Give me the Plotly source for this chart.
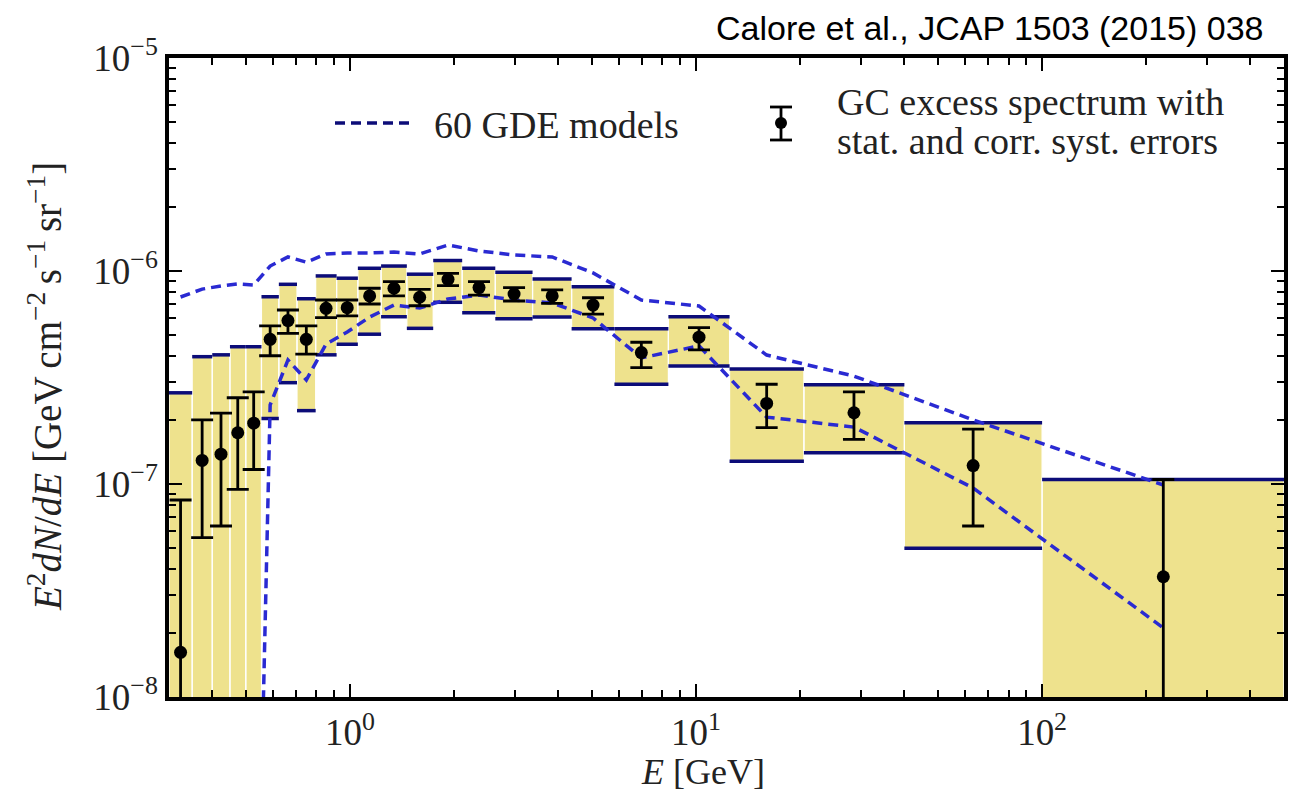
import plotly.graph_objects as go

# Energy bin edges [GeV]
bin_edges = [0.30, 0.35, 0.40, 0.45, 0.50, 0.555, 0.623, 0.703, 0.796, 0.915,
             1.054, 1.23, 1.46, 1.74, 2.11, 2.63, 3.37, 4.37, 5.81, 8.32,
             12.5, 20.5, 40.0, 100.0, 500.0]

# Bin centre energies [GeV]
energy = [0.324, 0.374, 0.424, 0.474, 0.527, 0.588, 0.662, 0.748, 0.853, 0.982,
          1.14, 1.34, 1.59, 1.92, 2.36, 2.98, 3.84, 5.04, 6.95, 10.2,
          16.0, 28.6, 63.2, 224.0]

# GC excess spectrum E^2 dN/dE [GeV cm^-2 s^-1 sr^-1]
flux = [1.62e-8, 1.29e-7, 1.38e-7, 1.74e-7, 1.93e-7, 4.78e-7, 5.85e-7, 4.78e-7,
        6.68e-7, 6.73e-7, 7.64e-7, 8.30e-7, 7.53e-7, 9.14e-7, 8.36e-7, 7.80e-7,
        7.64e-7, 6.92e-7, 4.14e-7, 4.89e-7, 2.39e-7, 2.16e-7, 1.22e-7, 3.67e-8]

# Statistical error band (upper / lower ends)
stat_hi = [8.41e-8, 2.00e-7, 2.15e-7, 2.54e-7, 2.71e-7, 5.52e-7, 6.56e-7, 5.52e-7,
           7.31e-7, 7.31e-7, 8.30e-7, 8.91e-7, 8.20e-7, 9.75e-7, 8.91e-7, 8.36e-7,
           8.15e-7, 7.49e-7, 4.63e-7, 5.42e-7, 2.94e-7, 2.71e-7, 1.81e-7, 1.05e-7]
stat_lo = [1e-10, 5.60e-8, 6.35e-8, 9.44e-8, 1.17e-7, 4.00e-7, 5.10e-7, 4.07e-7,
           6.04e-7, 6.15e-7, 7.00e-7, 7.64e-7, 6.87e-7, 8.53e-7, 7.71e-7, 7.23e-7,
           7.05e-7, 6.27e-7, 3.52e-7, 4.26e-7, 1.84e-7, 1.62e-7, 6.35e-8, 1e-10]

# Correlated systematic band (upper / lower ends)
syst_hi = [2.68e-7, 3.96e-7, 4.04e-7, 4.41e-7, 4.41e-7, 7.57e-7, 8.66e-7, 7.41e-7,
           9.48e-7, 9.25e-7, 1.03e-6, 1.055e-6, 9.66e-7, 1.12e-6, 1.03e-6, 9.86e-7,
           9.16e-7, 8.44e-7, 5.35e-7, 6.10e-7, 3.47e-7, 2.92e-7, 1.94e-7, 1.05e-7]
syst_lo = [1e-10, 1e-10, 1e-10, 1e-10, 1e-10, 2.03e-7, 2.99e-7, 2.21e-7,
           4.04e-7, 4.53e-7, 5.05e-7, 6.10e-7, 5.38e-7, 7.13e-7, 6.37e-7, 5.96e-7,
           6.08e-7, 5.35e-7, 2.94e-7, 3.58e-7, 1.28e-7, 1.40e-7, 4.99e-8, 1e-10]

# Envelope of the 60 Galactic diffuse emission models
gde_upper = [7.55e-7, 8.22e-7, 8.51e-7, 8.69e-7, 8.60e-7, 1.055e-6, 1.164e-6, 1.10e-6,
             1.202e-6, 1.215e-6, 1.215e-6, 1.228e-6, 1.202e-6, 1.325e-6, 1.242e-6,
             1.189e-6, 1.164e-6, 9.79e-7, 7.31e-7, 6.85e-7, 4.03e-7, 3.21e-7,
             2.00e-7, 9.89e-8]
gde_lower = [1e-10, 1e-10, 1e-10, 1e-10, 1e-10, 2.35e-7, 3.82e-7, 3.08e-7,
             4.54e-7, 5.17e-7, 6.08e-7, 6.92e-7, 6.70e-7, 7.39e-7, 7.71e-7,
             7.31e-7, 7.08e-7, 6.02e-7, 3.91e-7, 4.45e-7, 2.06e-7, 1.85e-7,
             9.58e-8, 2.11e-8]

# Axis ticks
x_major = [1, 10, 100]
x_major_text = ["10<sup>0</sup>", "10<sup>1</sup>", "10<sup>2</sup>"]
x_minor = [0.4, 0.5, 0.6, 0.7, 0.8, 0.9, 2, 3, 4, 5, 6, 7, 8, 9,
           20, 30, 40, 50, 60, 70, 80, 90, 200, 300, 400]
y_major = [1e-8, 1e-7, 1e-6, 1e-5]
y_major_text = ["10<sup>\u22128</sup>", "10<sup>\u22127</sup>",
                "10<sup>\u22126</sup>", "10<sup>\u22125</sup>"]
y_minor = [m * 10.0 ** p for p in (-8, -7, -6) for m in range(2, 10)]

KHAKI = "#eee28d"
NAVY = "#0c0c78"
DASH_BLUE = "#2a2ad2"
SERIF = "Liberation Serif"
TEXT = "#222"

W, H = 1301, 796
ML, MR, MT, MB = 169, 17, 58, 99
PW, PH = W - ML - MR, H - MT - MB


def px(xp):
    return (xp - ML) / PW


def py(yp):
    return (H - MB - yp) / PH


fig = go.Figure()

# systematic boxes
bx, by = [], []
for i in range(len(energy)):
    lo, hi = bin_edges[i], bin_edges[i + 1]
    bx += [lo, hi, hi, lo, lo, None]
    by += [syst_lo[i], syst_lo[i], syst_hi[i], syst_hi[i], syst_lo[i], None]
fig.add_trace(go.Scatter(x=bx, y=by, mode="lines", fill="toself",
                         fillcolor=KHAKI, line=dict(color="white", width=1.2),
                         hoverinfo="skip", showlegend=False))

# navy caps on the boxes
lx, ly = [], []
for i in range(len(energy)):
    lo, hi = bin_edges[i], bin_edges[i + 1]
    lx += [lo, hi, None, lo, hi, None]
    ly += [syst_hi[i], syst_hi[i], None, syst_lo[i], syst_lo[i], None]
fig.add_trace(go.Scatter(x=lx, y=ly, mode="lines",
                         line=dict(color=NAVY, width=3.5),
                         hoverinfo="skip", showlegend=False))

# GDE model envelope
for band in (gde_upper, gde_lower):
    fig.add_trace(go.Scatter(x=energy, y=band, mode="lines",
                             line=dict(color=DASH_BLUE, width=3.5, dash="10px,6px"),
                             showlegend=False))

# data points with statistical errors
fig.add_trace(go.Scatter(
    x=energy, y=flux, mode="markers",
    marker=dict(color="black", size=13),
    error_y=dict(type="data", symmetric=False,
                 array=[h - f for h, f in zip(stat_hi, flux)],
                 arrayminus=[f - l for f, l in zip(flux, stat_lo)],
                 color="black", thickness=2.8, width=11),
    showlegend=False))

axis_common = dict(
    type="log", showgrid=False, zeroline=False,
    showline=True, linecolor="black", linewidth=3.5, mirror="ticks",
    ticks="inside", ticklen=13, tickwidth=2, tickcolor="black",
    tickfont=dict(family=SERIF, size=37, color=TEXT),
)

fig.update_xaxes(range=[-0.5229, 2.699], tickmode="array", tickvals=x_major,
                 ticktext=x_major_text,
                 minor=dict(ticks="inside", ticklen=7, tickwidth=1.5,
                            tickcolor="black", tickmode="array", tickvals=x_minor),
                 **axis_common)
fig.update_yaxes(range=[-8, -5], tickmode="array", tickvals=y_major,
                 ticktext=y_major_text,
                 minor=dict(ticks="inside", ticklen=7, tickwidth=1.5,
                            tickcolor="black", tickmode="array", tickvals=y_minor),
                 **axis_common)

annotations = [
    dict(text="<i>E</i> [GeV]", x=px(703), y=py(772),
         font=dict(family=SERIF, size=36, color=TEXT)),
    dict(text="<i>E</i><sup>2</sup><i>dN</i>/<i>dE</i> [GeV\u2009cm<sup>\u22122</sup>\u2009"
              "s<sup>\u22121</sup>\u2009sr<sup>\u22121</sup>]",
         x=px(45), y=py(387), textangle=-90,
         font=dict(family=SERIF, size=39, color=TEXT)),
    dict(text="Calore et al., JCAP 1503 (2015) 038", x=px(1266), y=py(28),
         xanchor="right", font=dict(family="Liberation Sans", size=34, color="black")),
    dict(text="60 GDE models", x=px(432), y=py(125), xanchor="left",
         font=dict(family=SERIF, size=38, color=TEXT)),
    dict(text="GC excess spectrum with", x=px(835), y=py(102), xanchor="left",
         font=dict(family=SERIF, size=38, color=TEXT)),
    dict(text="stat. and corr. syst. errors", x=px(835), y=py(141), xanchor="left",
         font=dict(family=SERIF, size=38, color=TEXT)),
]
for a in annotations:
    a.update(xref="paper", yref="paper", showarrow=False)
    a.setdefault("xanchor", "center")
    a.setdefault("yanchor", "middle")

shapes = [
    # dashed legend sample
    dict(type="line", x0=px(335), x1=px(410), y0=py(123), y1=py(123),
         line=dict(color=NAVY, width=3.5, dash="10px,6px")),
    # error-bar legend sample
    dict(type="line", x0=px(781), x1=px(781), y0=py(107), y1=py(140),
         line=dict(color="black", width=2.8)),
    dict(type="line", x0=px(770), x1=px(792), y0=py(107), y1=py(107),
         line=dict(color="black", width=2.8)),
    dict(type="line", x0=px(770), x1=px(792), y0=py(140), y1=py(140),
         line=dict(color="black", width=2.8)),
    dict(type="circle", x0=px(775), x1=px(787), y0=py(129), y1=py(117),
         fillcolor="black", line=dict(color="black", width=0)),
]
for s in shapes:
    s.update(xref="paper", yref="paper")

fig.update_layout(
    width=W, height=H, autosize=False,
    margin=dict(l=ML, r=MR, t=MT, b=MB),
    paper_bgcolor="white", plot_bgcolor="white",
    annotations=annotations, shapes=shapes,
    showlegend=False,
)

fig.write_html("out.html")
